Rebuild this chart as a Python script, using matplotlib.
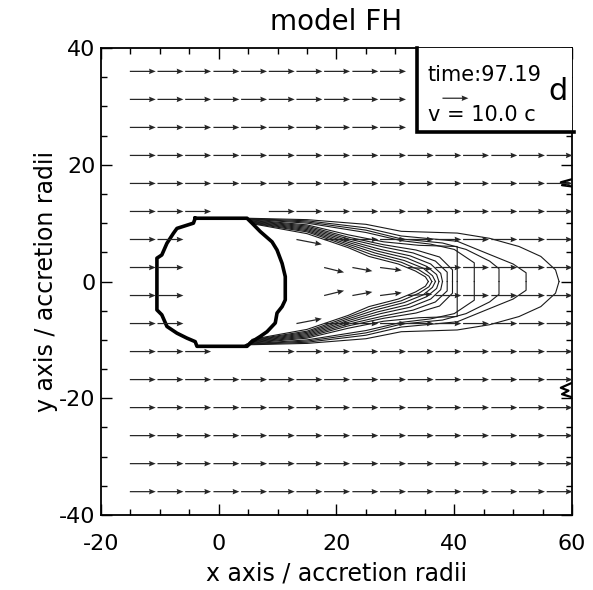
import numpy as np
import matplotlib
matplotlib.use("Agg")
import matplotlib.pyplot as plt
from matplotlib.patches import Rectangle
from matplotlib.ticker import MultipleLocator

plt.rcParams['axes.unicode_minus'] = False

# arrow grid (accretion radii)
x_cols = [-15.1, -10.4, -5.7, -0.9, 3.8, 8.5, 13.2, 17.9, 22.7, 27.4, 32.1, 36.8, 41.5, 46.3, 51.0, 55.7]
y_rows = [36.0, 31.2, 26.4, 21.6, 16.8, 12.0, 7.2, 2.4, -2.4, -7.2, -12.0, -16.8, -21.6, -26.4, -31.2, -36.0]
v_inf = 10.0  # free stream speed, in c

# arrows not drawn (inside the accretor / under the label box): (row, col)
hidden = [(5, 3), (5, 4), (10, 3), (10, 4),
          (6, 2), (6, 3), (6, 4), (6, 5), (9, 2), (9, 3), (9, 4), (9, 5),
          (7, 2), (7, 3), (7, 4), (7, 5), (7, 6), (8, 2), (8, 3), (8, 4), (8, 5), (8, 6),
          (0, 10), (1, 10), (2, 10)]

# arrows in the wake cone: (row, col) and velocity
wake_rc = [(6, 6), (9, 6), (7, 7), (8, 7), (7, 8), (8, 8), (7, 9), (8, 9), (7, 10), (8, 10)]
wake_u = [9.8, 9.8, 7.7, 7.7, 7.7, 7.7, 8.4, 8.4, 9.5, 9.5]
wake_v = [-1.9, 1.9, -1.9, 1.9, -1.4, 1.4, -1.1, 1.1, -0.5, 0.5]

# accretor outline
body_x = [-4.0, 4.8, 5.65, 7.06, 9.05, 9.9, 10.76, 11.3, 11.3, 10.76, 9.9, 9.6, 8.2, 7.06, 5.65, 4.8,
          -3.7, -4.0, -5.4, -7.1, -8.8, -9.67, -10.5, -10.5, -9.67, -8.8, -7.7, -7.1, -4.3, -4.0]
body_y = [10.84, 10.84, 10.0, 8.55, 6.8, 5.4, 3.1, 0.84, -3.15, -4.3, -5.4, -7.1, -8.6, -9.4, -10.3, -11.1,
          -11.1, -10.3, -9.7, -8.85, -7.7, -5.7, -4.86, 4.0, 4.55, 6.55, 8.26, 9.1, 10.0, 10.84]

# wake contours, upper half (lower half is the mirror image)
cont_x = [
    [4.5, 15, 25, 31, 40.5, 46, 51, 54.7, 57.2, 57.8],
    [4.6, 15, 25, 31, 40.5, 45.6, 50, 52.2, 52.2],
    [4.7, 15, 25, 31, 38, 42, 46, 47.6, 47.6],
    [4.8, 15, 25, 31, 36, 40, 43.4, 43.4],
    [5.0, 15, 22, 28, 34, 40.5, 40.5],
    [5.1, 15, 22, 28, 33.5, 37.5, 39.7, 39.7],
    [5.2, 15, 22, 28, 33, 36.8, 38.8, 38.8],
    [5.3, 15, 22, 27.5, 32.5, 36, 37.7, 38.0],
    [5.4, 15, 22, 27, 32, 35.3, 37, 37.4],
    [5.5, 15, 22, 26.5, 31.5, 34.7, 36.3, 36.8],
    [5.6, 15, 22, 26, 31, 34, 35.7, 36.2],
    [5.7, 15, 22, 25.5, 30.5, 33.4, 35.1, 35.6],
]
cont_y = [
    [10.85, 10.6, 9.8, 8.6, 8.3, 7.4, 6.0, 4.3, 2.0, 0.0],
    [10.8, 10.4, 9.2, 7.8, 6.9, 4.8, 3.0, 1.5, 0.0],
    [10.75, 10.2, 8.8, 7.3, 6.6, 5.5, 3.5, 2.2, 0.0],
    [10.7, 10.0, 8.4, 7.0, 6.4, 5.5, 3.2, 0.0],
    [10.6, 9.7, 8.0, 6.8, 6.2, 6.0, 0.0],
    [10.5, 9.5, 7.6, 6.3, 5.4, 4.2, 2.0, 0.0],
    [10.4, 9.3, 7.3, 5.9, 4.9, 3.5, 1.6, 0.0],
    [10.3, 9.1, 7.0, 5.5, 4.4, 3.0, 1.4, 0.0],
    [10.2, 8.9, 6.7, 5.2, 4.0, 2.6, 1.2, 0.0],
    [10.1, 8.7, 6.4, 4.9, 3.6, 2.3, 1.0, 0.0],
    [10.0, 8.5, 6.1, 4.6, 3.3, 2.0, 0.9, 0.0],
    [9.9, 8.2, 5.8, 4.3, 3.0, 1.8, 0.8, 0.0],
]

# small contour pieces at the right edge
edge_x = [[59.9, 58.1, 59.4, 58.3, 59.9], [59.9, 58.1, 59.4, 58.3, 59.9]]
edge_y = [[17.5, 17.0, 16.8, 16.5, 16.3], [-17.4, -18.2, -18.7, -19.3, -19.8]]

time_label = "time:97.19"
panel = "d"

X, Y = np.meshgrid(x_cols, y_rows)
U = np.full(X.shape, v_inf)
V = np.zeros(X.shape)
for (r, c), u, v in zip(wake_rc, wake_u, wake_v):
    U[r, c] = u
    V[r, c] = v
mask = np.zeros(X.shape, dtype=bool)
for r, c in hidden:
    mask[r, c] = True
U = np.ma.masked_array(U, mask)
V = np.ma.masked_array(V, mask)

arrow_len = 4.4  # data units for v_inf
qkw = dict(angles='xy', scale_units='xy', scale=v_inf / arrow_len, pivot='tail',
           width=0.0026, headwidth=4.5, headlength=5.5, headaxislength=5, color='0.15')

fig = plt.figure(figsize=(5.93, 5.90), dpi=100)
ax = fig.add_axes([0.1703, 0.1271, 0.7943, 0.7915])

for cx, cy in zip(cont_x, cont_y):
    ax.plot(cx, cy, color='0.1', lw=0.8, zorder=2)
    ax.plot(cx, -np.array(cy), color='0.1', lw=0.8, zorder=2)
for ex, ey in zip(edge_x, edge_y):
    ax.plot(ex, ey, color='k', lw=1.6, zorder=2)

ax.plot(body_x, body_y, color='k', lw=2.6, zorder=3, solid_joinstyle='round')

ax.quiver(X, Y, U, V, zorder=3.5, **qkw)

ax.set_xlim(-20, 60)
ax.set_ylim(-40, 40)
ax.xaxis.set_major_locator(MultipleLocator(20))
ax.yaxis.set_major_locator(MultipleLocator(20))
ax.xaxis.set_minor_locator(MultipleLocator(5))
ax.yaxis.set_minor_locator(MultipleLocator(5))
ax.tick_params(which='both', direction='in', top=True, right=True, width=1.0)
ax.tick_params(which='major', length=8, labelsize=16)
ax.tick_params(which='minor', length=4)
ax.tick_params(axis='x', pad=14)
ax.tick_params(axis='y', pad=4)
for s in ax.spines.values():
    s.set_linewidth(1.3)

ax.set_xlabel("x axis / accretion radii", fontsize=17, labelpad=5)
ax.set_ylabel("y axis / accretion radii", fontsize=17, labelpad=1)
ax.set_title("model FH", fontsize=20, pad=13)

# label box
ax.add_patch(Rectangle((0.671, 0.82), 0.329, 0.18, transform=ax.transAxes,
                       facecolor='white', edgecolor='none', zorder=4, clip_on=False))
ax.plot([0.671, 0.671, 1.004], [1.0, 0.82, 0.82], transform=ax.transAxes, color='k',
        lw=2.6, zorder=5, clip_on=False, solid_joinstyle='miter')
ax.text(35.5, 35.4, time_label, fontsize=15, va='center', ha='left', zorder=6)
ax.quiver([38.0], [31.4], [v_inf], [0.0], zorder=6, **qkw)
ax.text(35.5, 28.6, "v = %.1f c" % v_inf, fontsize=15, va='center', ha='left', zorder=6)
ax.text(57.6, 32.6, panel, fontsize=22, va='center', ha='center', zorder=6)

fig.savefig("out.png", dpi=100)
